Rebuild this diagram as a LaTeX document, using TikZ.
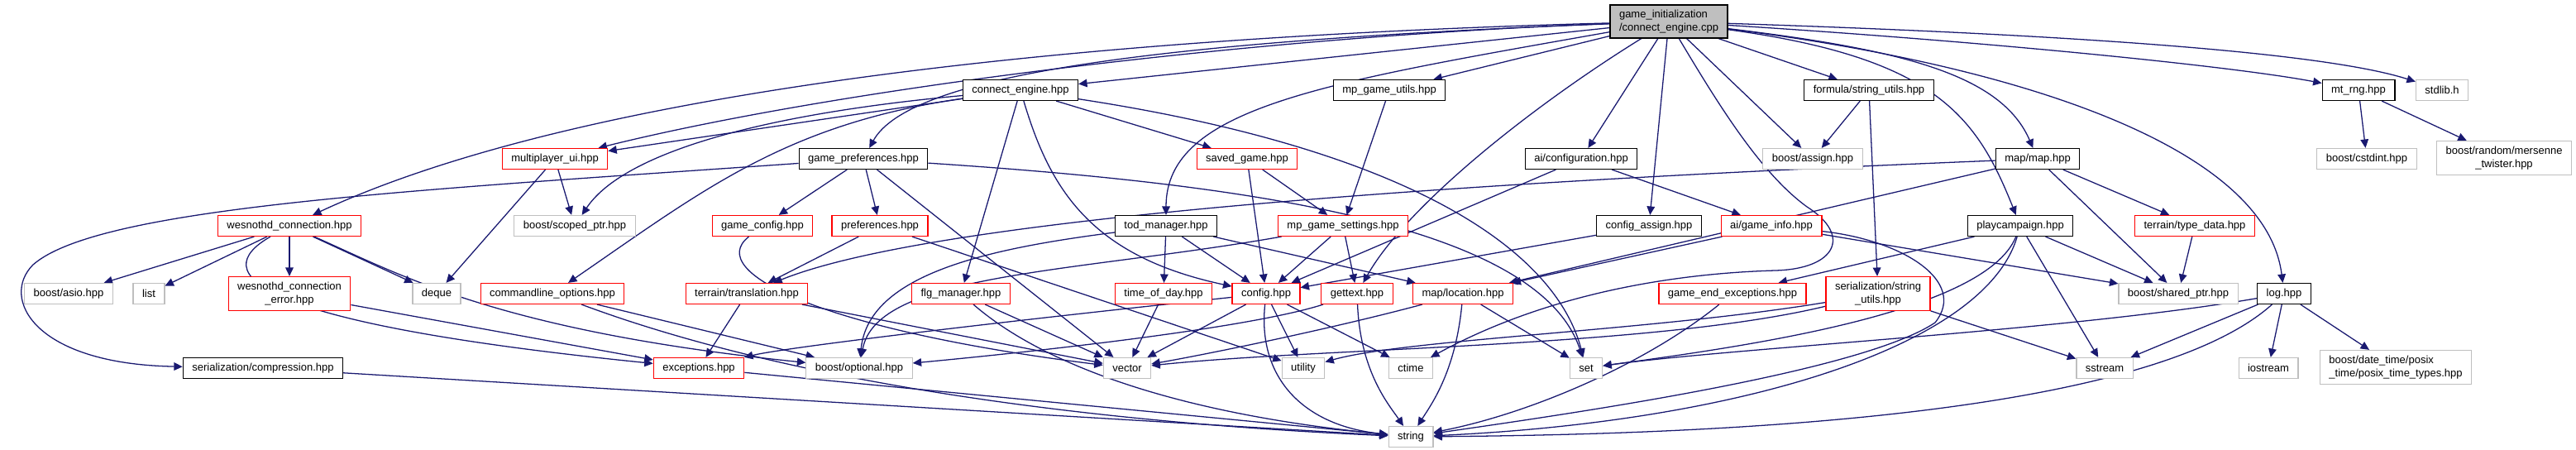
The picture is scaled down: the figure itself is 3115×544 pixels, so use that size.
\documentclass[tikz,border=0pt]{standalone}
\usepackage{fontspec}
\setmainfont{Liberation Sans}
\usetikzlibrary{arrows.meta,backgrounds}
\definecolor{EdgeBlue}{RGB}{25,25,112}
\definecolor{SysGray}{RGB}{191,191,191}
\tikzset{
  file/.style={
    draw,
    line width=0.3pt,
    inner xsep=2.75pt,
    inner ysep=0.6pt,
    minimum height=6.25pt,
    fill=white,
    font=\fontsize{3.25pt}{3.9pt}\selectfont
  },
  docfile/.style={file,draw=black},
  redfile/.style={file,draw=red},
  sysfile/.style={file,draw=SysGray},
  rootfile/.style={file,draw=black,fill=SysGray,align=left,minimum height=10pt},
  twoline/.style={align=center,minimum height=10.25pt},
  dep/.style={-{Triangle[length=2.6pt,width=2.4pt]},color=EdgeBlue,line width=0.32pt}
}

\begin{document}
\begin{tikzpicture}[x=0.25pt,y=-0.25pt]
\useasboundingbox (0,0) rectangle (3115,544);

\node[rootfile] (root) at (2018,26) {game\_initialization\\/connect\_engine.cpp};

\node[docfile] (ceh) at (1234,109) {connect\_engine.hpp};
\node[docfile] (mgu) at (1680,109) {mp\_game\_utils.hpp};
\node[docfile] (fsu) at (2260,109) {formula/string\_utils.hpp};
\node[docfile] (rng) at (2852,109) {mt\_rng.hpp};
\node[sysfile] (stdlib) at (2953,109) {stdlib.h};

\node[redfile] (mpui) at (671,192) {multiplayer\_ui.hpp};
\node[docfile] (gpref) at (1044,192) {game\_preferences.hpp};
\node[redfile] (saved) at (1508,192) {saved\_game.hpp};
\node[docfile] (aicfg) at (1912,192) {ai/configuration.hpp};
\node[sysfile] (assign) at (2192,192) {boost/assign.hpp};
\node[docfile] (map) at (2464,192) {map/map.hpp};
\node[sysfile] (cstdint) at (2862,192) {boost/cstdint.hpp};
\node[sysfile,twoline] (twister) at (3028,191) {boost/random/mersenne\\\_twister.hpp};

\node[redfile] (wconn) at (350,273) {wesnothd\_connection.hpp};
\node[sysfile] (scoped) at (695,273) {boost/scoped\_ptr.hpp};
\node[redfile] (gcfg) at (922,273) {game\_config.hpp};
\node[redfile] (prefs) at (1064,273) {preferences.hpp};
\node[docfile] (tod) at (1410,273) {tod\_manager.hpp};
\node[redfile] (mgs) at (1624,273) {mp\_game\_settings.hpp};
\node[docfile] (cassign) at (1994,273) {config\_assign.hpp};
\node[redfile] (ginfo) at (2142,273) {ai/game\_info.hpp};
\node[docfile] (playc) at (2443,273) {playcampaign.hpp};
\node[redfile] (tdata) at (2654,273) {terrain/type\_data.hpp};

\node[sysfile] (asio) at (83,355) {boost/asio.hpp};
\node[sysfile] (list) at (180,355) {list};
\node[redfile,twoline] (werr) at (350,355) {wesnothd\_connection\\\_error.hpp};
\node[sysfile] (deque) at (528,355) {deque};
\node[redfile] (cmdl) at (668,355) {commandline\_options.hpp};
\node[redfile] (transl) at (903,355) {terrain/translation.hpp};
\node[redfile] (flg) at (1162,355) {flg\_manager.hpp};
\node[redfile] (tday) at (1407,355) {time\_of\_day.hpp};
\node[redfile] (config) at (1531,355) {config.hpp};
\node[redfile] (gettext) at (1641,355) {gettext.hpp};
\node[redfile] (loc) at (1769,355) {map/location.hpp};
\node[redfile] (gend) at (2095,355) {game\_end\_exceptions.hpp};
\node[redfile,twoline] (ssu) at (2271,355) {serialization/string\\\_utils.hpp};
\node[sysfile] (shptr) at (2634,355) {boost/shared\_ptr.hpp};
\node[docfile] (log) at (2762,355) {log.hpp};

\node[docfile] (compr) at (318,445) {serialization/compression.hpp};
\node[redfile] (exc) at (845,445) {exceptions.hpp};
\node[sysfile] (optional) at (1039,445) {boost/optional.hpp};
\node[sysfile] (vector) at (1363,445) {vector};
\node[sysfile] (utility) at (1576,445) {utility};
\node[sysfile] (ctime) at (1706,445) {ctime};
\node[sysfile] (set) at (1918,445) {set};
\node[sysfile] (sstream) at (2545,445) {sstream};
\node[sysfile] (iostream) at (2743,445) {iostream};
\node[sysfile,twoline,align=left] (posix) at (2897,444) {boost/date\_time/posix\\\_time/posix\_time\_types.hpp};

\node[sysfile] (string) at (1706,528) {string};

\begin{pgfonlayer}{background}
\draw[dep] (root) .. controls (1300,45) and (700,110) .. (wconn);
\draw[dep] (root) .. controls (1500,45) and (1000,110) .. (mpui);
\draw[dep] (root) .. controls (1400,50) and (1100,90) .. (gpref);
\draw[dep] (root) -- (ceh);
\draw[dep] (root) .. controls (1600,100) and (1410,130) .. (tod);
\draw[dep] (root) -- (mgu);
\draw[dep] (root) .. controls (1850,130) and (1700,250) .. (gettext);
\draw[dep] (root) -- (aicfg);
\draw[dep] (root) -- (cassign);
\draw[dep] (root) -- (assign);
\draw[dep] (root) -- (fsu);
\draw[dep] (root) .. controls (2340,70) and (2390,140) .. (playc);
\draw[dep] (root) .. controls (2300,60) and (2420,90) .. (map);
\draw[dep] (root) .. controls (2400,50) and (2700,80) .. (rng);
\draw[dep] (root) .. controls (2450,40) and (2800,60) .. (stdlib);
\draw[dep] (root) .. controls (2450,80) and (2740,180) .. (log);
\draw[dep] (root) .. controls (2080,130) and (2130,210) .. (2185,250)
  .. controls (2240,285) and (2220,325) .. (2147,327)
  .. controls (2040,330) and (1880,350) .. (ctime);

\draw[dep] (ceh) -- (mpui);
\draw[dep] (ceh) .. controls (900,140) and (750,190) .. (scoped);
\draw[dep] (ceh) .. controls (950,150) and (850,230) .. (cmdl);
\draw[dep] (ceh) -- (flg);
\draw[dep] (ceh) .. controls (1270,230) and (1320,310) .. (config);
\draw[dep] (ceh) -- (saved);
\draw[dep] (ceh) .. controls (1700,180) and (1880,300) .. (set);

\draw[dep] (mgu) -- (mgs);
\draw[dep] (fsu) -- (assign);
\draw[dep] (fsu) -- (ssu);
\draw[dep] (rng) -- (cstdint);
\draw[dep] (rng) -- (twister);

\draw[dep] (mpui) -- (scoped);
\draw[dep] (mpui) -- (deque);

\draw[dep] (gpref) -- (gcfg);
\draw[dep] (gpref) -- (prefs);
\draw[dep] (gpref) -- (vector);
\draw[dep] (gpref) .. controls (1500,222) and (1860,270) .. (set);
\draw[dep] (gpref) .. controls (500,230) and (120,250) .. (40,320)
  .. controls (0,360) and (40,440) .. (compr);

\draw[dep] (saved) -- (mgs);
\draw[dep] (saved) -- (config);
\draw[dep] (aicfg) -- (ginfo);
\draw[dep] (aicfg) -- (config);
\draw[dep] (map) -- (loc);
\draw[dep] (map) .. controls (1900,215) and (1150,255) .. (transl);
\draw[dep] (map) -- (tdata);
\draw[dep] (map) -- (shptr);

\draw[dep] (wconn) -- (asio);
\draw[dep] (wconn) -- (list);
\draw[dep] (wconn) -- (werr);
\draw[dep] (wconn) -- (deque);
\draw[dep] (wconn) .. controls (250,330) and (300,390) .. (exc);
\draw[dep] (wconn) .. controls (480,330) and (600,400) .. (optional);
\draw[dep] (prefs) -- (transl);
\draw[dep] (prefs) -- (utility);
\draw[dep] (gcfg) .. controls (850,330) and (1000,400) .. (vector);
\draw[dep] (tod) -- (tday);
\draw[dep] (tod) -- (config);
\draw[dep] (tod) -- (loc);
\draw[dep] (tod) .. controls (1200,300) and (1050,330) .. (optional);
\draw[dep] (mgs) -- (config);
\draw[dep] (mgs) -- (gettext);
\draw[dep] (mgs) .. controls (1300,330) and (1060,330) .. (optional);
\draw[dep] (cassign) -- (config);
\draw[dep] (ginfo) -- (loc);
\draw[dep] (ginfo) -- (shptr);
\draw[dep] (ginfo) .. controls (2300,290) and (2380,340) .. (2340,390)
  .. controls (2250,450) and (1900,500) .. (string);
\draw[dep] (playc) -- (gend);
\draw[dep] (playc) -- (shptr);
\draw[dep] (playc) -- (sstream);
\draw[dep] (playc) .. controls (2400,380) and (2100,420) .. (set);
\draw[dep] (playc) .. controls (2400,420) and (2100,510) .. (string);
\draw[dep] (tdata) -- (shptr);

\draw[dep] (werr) -- (exc);
\draw[dep] (cmdl) -- (optional);
\draw[dep] (cmdl) .. controls (950,460) and (1300,510) .. (string);
\draw[dep] (transl) -- (exc);
\draw[dep] (transl) -- (vector);
\draw[dep] (flg) -- (vector);
\draw[dep] (flg) .. controls (1260,440) and (1420,500) .. (string);
\draw[dep] (tday) -- (vector);
\draw[dep] (config) -- (vector);
\draw[dep] (config) -- (utility);
\draw[dep] (config) -- (ctime);
\draw[dep] (config) .. controls (1200,390) and (950,420) .. (exc);
\draw[dep] (config) .. controls (1520,460) and (1580,515) .. (string);
\draw[dep] (gettext) .. controls (1645,450) and (1680,490) .. (string);
\draw[dep] (gettext) .. controls (1500,400) and (1200,430) .. (optional);
\draw[dep] (loc) -- (set);
\draw[dep] (loc) .. controls (1760,450) and (1730,490) .. (string);
\draw[dep] (loc) .. controls (1600,400) and (1450,430) .. (vector);
\draw[dep] (gend) .. controls (1990,440) and (1850,500) .. (string);
\draw[dep] (ssu) -- (sstream);
\draw[dep] (ssu) .. controls (2000,400) and (1700,410) .. (utility);
\draw[dep] (ssu) .. controls (2000,420) and (1600,420) .. (vector);
\draw[dep] (log) -- (iostream);
\draw[dep] (log) -- (posix);
\draw[dep] (log) -- (sstream);
\draw[dep] (log) .. controls (2500,400) and (2100,420) .. (set);
\draw[dep] (log) .. controls (2600,500) and (2100,525) .. (string);
\draw[dep] (compr) -- (string);
\draw[dep] (exc) -- (string);
\end{pgfonlayer}

\end{tikzpicture}
\end{document}
